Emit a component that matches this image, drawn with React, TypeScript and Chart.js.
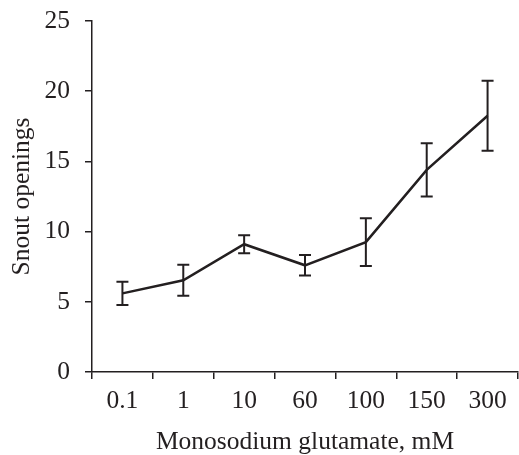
import React, { useEffect, useRef } from "react";
import { Chart, registerables } from "chart.js";

Chart.register(...registerables);

const categories = ["0.1", "1", "10", "60", "100", "150", "300"];
const means = [5.6, 6.53, 9.1, 7.6, 9.25, 14.4, 18.25];
const errors = [0.83, 1.1, 0.64, 0.73, 1.7, 1.9, 2.5];
const yTicks = [0, 5, 10, 15, 20, 25];

const INK = "#231f20";
const FONT = "'Liberation Serif', 'Times New Roman', serif";

const errorBarPlugin = {
  id: "errorBars",
  afterDatasetsDraw(chart: any) {
    const ctx = chart.ctx;
    const meta = chart.getDatasetMeta(0);
    const yScale = chart.scales.y;
    ctx.save();
    ctx.strokeStyle = INK;
    ctx.lineWidth = 2;
    const cap = 6;
    meta.data.forEach((pt: any, i: number) => {
      const x = pt.x;
      const yTop = yScale.getPixelForValue(means[i] + errors[i]);
      const yBot = yScale.getPixelForValue(means[i] - errors[i]);
      ctx.beginPath();
      ctx.moveTo(x, yTop);
      ctx.lineTo(x, yBot);
      ctx.moveTo(x - cap, yTop);
      ctx.lineTo(x + cap, yTop);
      ctx.moveTo(x - cap, yBot);
      ctx.lineTo(x + cap, yBot);
      ctx.stroke();
    });
    ctx.restore();
  },
};

export default function App() {
  const canvasRef = useRef<HTMLCanvasElement | null>(null);

  useEffect(() => {
    document.body.style.margin = "0";
    const canvas = canvasRef.current;
    if (!canvas) return;
    const chart = new Chart(canvas, {
      type: "line",
      data: {
        labels: categories,
        datasets: [
          {
            data: means,
            borderColor: INK,
            borderWidth: 2.5,
            pointRadius: 0,
            tension: 0,
            fill: false,
          },
        ],
      },
      options: {
        responsive: false,
        animation: false,
        devicePixelRatio: 1,
        layout: { padding: { top: 21, right: 1, left: 0, bottom: 0 } },
        plugins: {
          legend: { display: false },
          tooltip: { enabled: false },
        },
        scales: {
          x: {
            type: "category",
            offset: true,
            grid: {
              offset: true,
              display: true,
              drawOnChartArea: false,
              drawTicks: true,
              tickLength: 7,
              color: INK,
              lineWidth: 1.5,
            },
            border: { display: true, color: INK, width: 1.5 },
            ticks: {
              color: INK,
              padding: 7,
              maxRotation: 0,
              autoSkip: false,
              font: { family: FONT, size: 25.5, lineHeight: 1.2 },
            },
            title: {
              display: true,
              text: "Monosodium glutamate, mM",
              color: INK,
              padding: 0,
              font: { family: FONT, size: 25.5, lineHeight: 1 },
            },
            afterFit(scale: any) {
              scale.height = 83;
              scale.paddingLeft = 0;
              scale.paddingRight = 0;
            },
          },
          y: {
            min: 0,
            max: 25,
            afterBuildTicks(scale: any) {
              scale.ticks = yTicks.map((v) => ({ value: v }));
            },
            grid: {
              display: true,
              drawOnChartArea: false,
              drawTicks: true,
              tickLength: 7,
              color: INK,
              lineWidth: 1.5,
            },
            border: { display: true, color: INK, width: 1.5 },
            ticks: {
              color: INK,
              padding: 15,
              font: { family: FONT, size: 25.5, lineHeight: 1.2 },
            },
            title: {
              display: true,
              text: "Snout openings",
              color: INK,
              padding: { top: 6.5, bottom: 0 },
              font: { family: FONT, size: 25.5, lineHeight: 1.2 },
            },
            afterFit(scale: any) {
              scale.width = 92;
              scale.paddingTop = 0;
              scale.paddingBottom = 0;
            },
          },
        },
      },
      plugins: [errorBarPlugin],
    });
    return () => chart.destroy();
  }, []);

  return (
    <div style={{ width: 519, height: 455 }}>
      <canvas ref={canvasRef} width={519} height={455} style={{ display: "block" }} />
    </div>
  );
}
